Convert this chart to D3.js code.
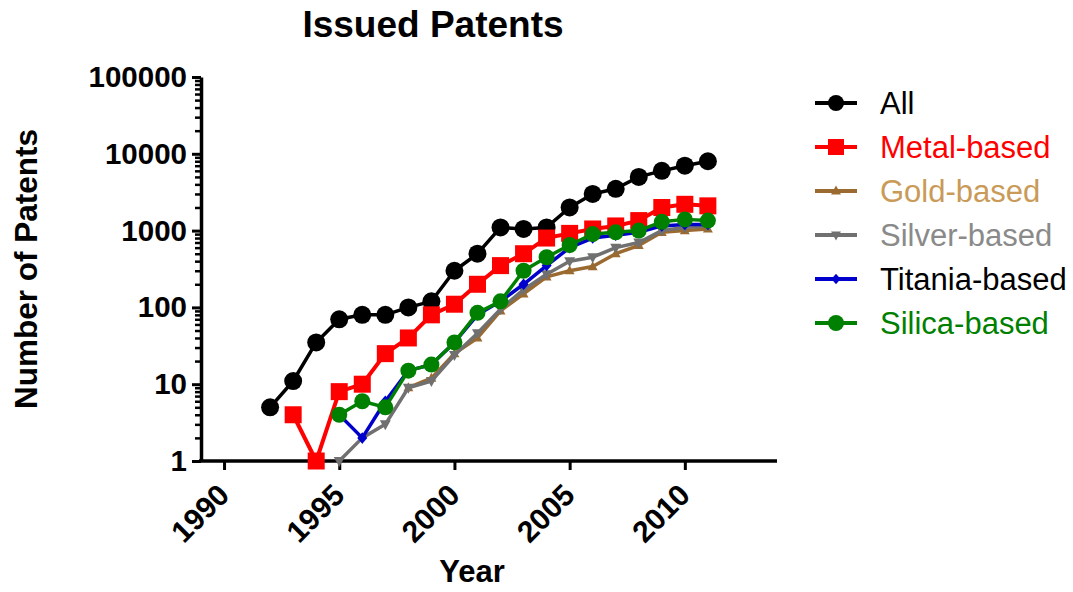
<!DOCTYPE html>
<html>
<head>
<meta charset="utf-8">
<script src="https://cdn.jsdelivr.net/npm/d3@7/dist/d3.min.js"></script>
<style>
  html, body { margin: 0; padding: 0; background: #fff; }
  svg { display: block; font-family: "Liberation Sans", Arial, sans-serif; }
</style>
</head>
<body>
<svg id="chart" width="1073" height="592"></svg>
<script>
// Issued patents per year, by material family (null = no patents recorded)
const years   = [1992,1993,1994,1995,1996,1997,1998,1999,2000,2001,2002,2003,2004,2005,2006,2007,2008,2009,2010,2011];
const allPat  = [5,11,35,70,80,80,100,120,300,500,1100,1050,1100,2000,3000,3500,5000,6000,7000,8000];
const metal   = [null,4,1,8,10,25,40,80,110,200,350,500,800,920,1050,1150,1350,2000,2200,2100];
const gold    = [null,null,null,null,null,null,9,12,25,40,90,150,250,300,340,500,640,950,1000,1050];
const silver  = [null,null,null,1,2,3,9,11,24,46,95,170,270,400,450,600,700,1000,1100,1150];
const titania = [null,null,null,4,2,6,15,18,35,80,120,200,350,600,800,870,950,1150,1200,1200];
const silica  = [null,null,null,4,6,5,15,18,35,85,120,300,450,650,900,950,1000,1300,1400,1350];

const seriesNames = ["All","Metal-based","Gold-based","Silver-based","Titania-based","Silica-based"];
const xTicks = [1990,1995,2000,2005,2010];
const yTicks = [1,10,100,1000,10000,100000];

const series = [
  {name: seriesNames[0], values: allPat,  line: "#000000", text: "#000000", shape: "circle",  size: 9,   width: 3.5},
  {name: seriesNames[1], values: metal,   line: "#ff0000", text: "#ff0000", shape: "square",  size: 8.5, width: 4},
  {name: seriesNames[2], values: gold,    line: "#9a6a30", text: "#c99a58", shape: "triUp",   size: 4.5, width: 3.5},
  {name: seriesNames[3], values: silver,  line: "#707070", text: "#8a8a8a", shape: "triDown", size: 5,   width: 3.5},
  {name: seriesNames[4], values: titania, line: "#0000cc", text: "#000000", shape: "diamond", size: 5,   width: 3.5},
  {name: seriesNames[5], values: silica,  line: "#008000", text: "#008000", shape: "circle",  size: 8,   width: 3.5}
];

const svg = d3.select("#chart");
const x = d3.scaleLinear().domain([1989, 2014]).range([201, 777]);
const y = d3.scaleLog().domain([1, 100000]).range([461, 77]);

// marker path generator, centred on (0,0)
function markerPath(shape, s) {
  switch (shape) {
    case "square":  return `M${-s},${-s}H${s}V${s}H${-s}Z`;
    case "triUp":   return `M0,${-s*1.2}L${s*1.1},${s*0.8}L${-s*1.1},${s*0.8}Z`;
    case "triDown": return `M0,${s*1.2}L${s*1.1},${-s*0.8}L${-s*1.1},${-s*0.8}Z`;
    case "diamond": return `M0,${-s*1.15}L${s},0L0,${s*1.15}L${-s},0Z`;
    default:        return d3.arc()({innerRadius: 0, outerRadius: s, startAngle: 0, endAngle: 2*Math.PI});
  }
}

// title
svg.append("text")
  .attr("x", 433).attr("y", 37)
  .attr("text-anchor", "middle")
  .attr("font-weight", "bold").attr("font-size", 37)
  .text("Issued Patents");

// y axis: labelled decades and unlabelled minor ticks
const minor = [];
yTicks.slice(0, -1).forEach(d => { for (let k = 2; k <= 9; k++) minor.push(d * k); });

const gyMinor = svg.append("g").attr("transform", "translate(201,0)")
  .call(d3.axisLeft(y).tickValues(minor).tickSize(6).tickSizeOuter(0).tickFormat(""));
gyMinor.select(".domain").remove();
gyMinor.selectAll(".tick line").attr("stroke-width", 2.5);

const gy = svg.append("g").attr("transform", "translate(201,0)")
  .call(d3.axisLeft(y).tickValues(yTicks).tickSize(9).tickSizeOuter(0).tickPadding(5).tickFormat(d3.format("d")));
gy.select(".domain").attr("stroke-width", 3.5);
gy.selectAll(".tick line").attr("stroke-width", 3);
gy.selectAll(".tick text")
  .attr("font-family", "Liberation Sans, Arial, sans-serif")
  .attr("font-weight", "bold").attr("font-size", 29.5).attr("fill", "#000");

// x axis
const gx = svg.append("g").attr("transform", "translate(0,461)")
  .call(d3.axisBottom(x).tickValues(xTicks).tickSize(9).tickSizeOuter(0).tickFormat(""));
gx.select(".domain").attr("stroke-width", 3.5).attr("d", "M199,0H777");
gx.selectAll(".tick line").attr("stroke-width", 3);

svg.append("g").selectAll("text").data(xTicks).join("text")
  .attr("transform", d => `translate(${x(d) + 7},497) rotate(-45)`)
  .attr("text-anchor", "end")
  .attr("font-weight", "bold").attr("font-size", 30)
  .text(d => d);

// axis titles
svg.append("text")
  .attr("x", 472).attr("y", 582)
  .attr("text-anchor", "middle")
  .attr("font-weight", "bold").attr("font-size", 31)
  .text("Year");

svg.append("text")
  .attr("transform", "translate(37,269) rotate(-90)")
  .attr("text-anchor", "middle")
  .attr("font-weight", "bold").attr("font-size", 31.5)
  .text("Number of Patents");

// series lines and markers
const line = d3.line()
  .defined(d => d.v != null)
  .x(d => x(d.year))
  .y(d => y(d.v));

series.forEach(s => {
  const pts = years.map((yr, i) => ({year: yr, v: s.values[i]}));
  const g = svg.append("g");
  g.append("path")
    .datum(pts)
    .attr("fill", "none")
    .attr("stroke", s.line)
    .attr("stroke-width", s.width)
    .attr("stroke-linejoin", "round")
    .attr("d", line);
  g.selectAll("path.pt").data(pts.filter(d => d.v != null)).join("path")
    .attr("class", "pt")
    .attr("transform", d => `translate(${x(d.year)},${y(d.v)})`)
    .attr("d", markerPath(s.shape, s.size))
    .attr("fill", s.line);
});

// legend
const legend = svg.append("g");
series.forEach((s, i) => {
  const cy = 103 + i * 44;
  const row = legend.append("g").attr("transform", `translate(0,${cy})`);
  row.append("line")
    .attr("x1", 815).attr("x2", 857).attr("y1", 0).attr("y2", 0)
    .attr("stroke", s.line).attr("stroke-width", 4);
  row.append("path")
    .attr("transform", "translate(836,0)")
    .attr("d", markerPath(s.shape, s.shape === "circle" ? 8 : (s.shape === "square" ? 8 : 4.5)))
    .attr("fill", s.line);
  row.append("text")
    .attr("x", 880).attr("y", 11)
    .attr("font-size", 31)
    .attr("fill", s.text)
    .text(s.name);
});
</script>
</body>
</html>
